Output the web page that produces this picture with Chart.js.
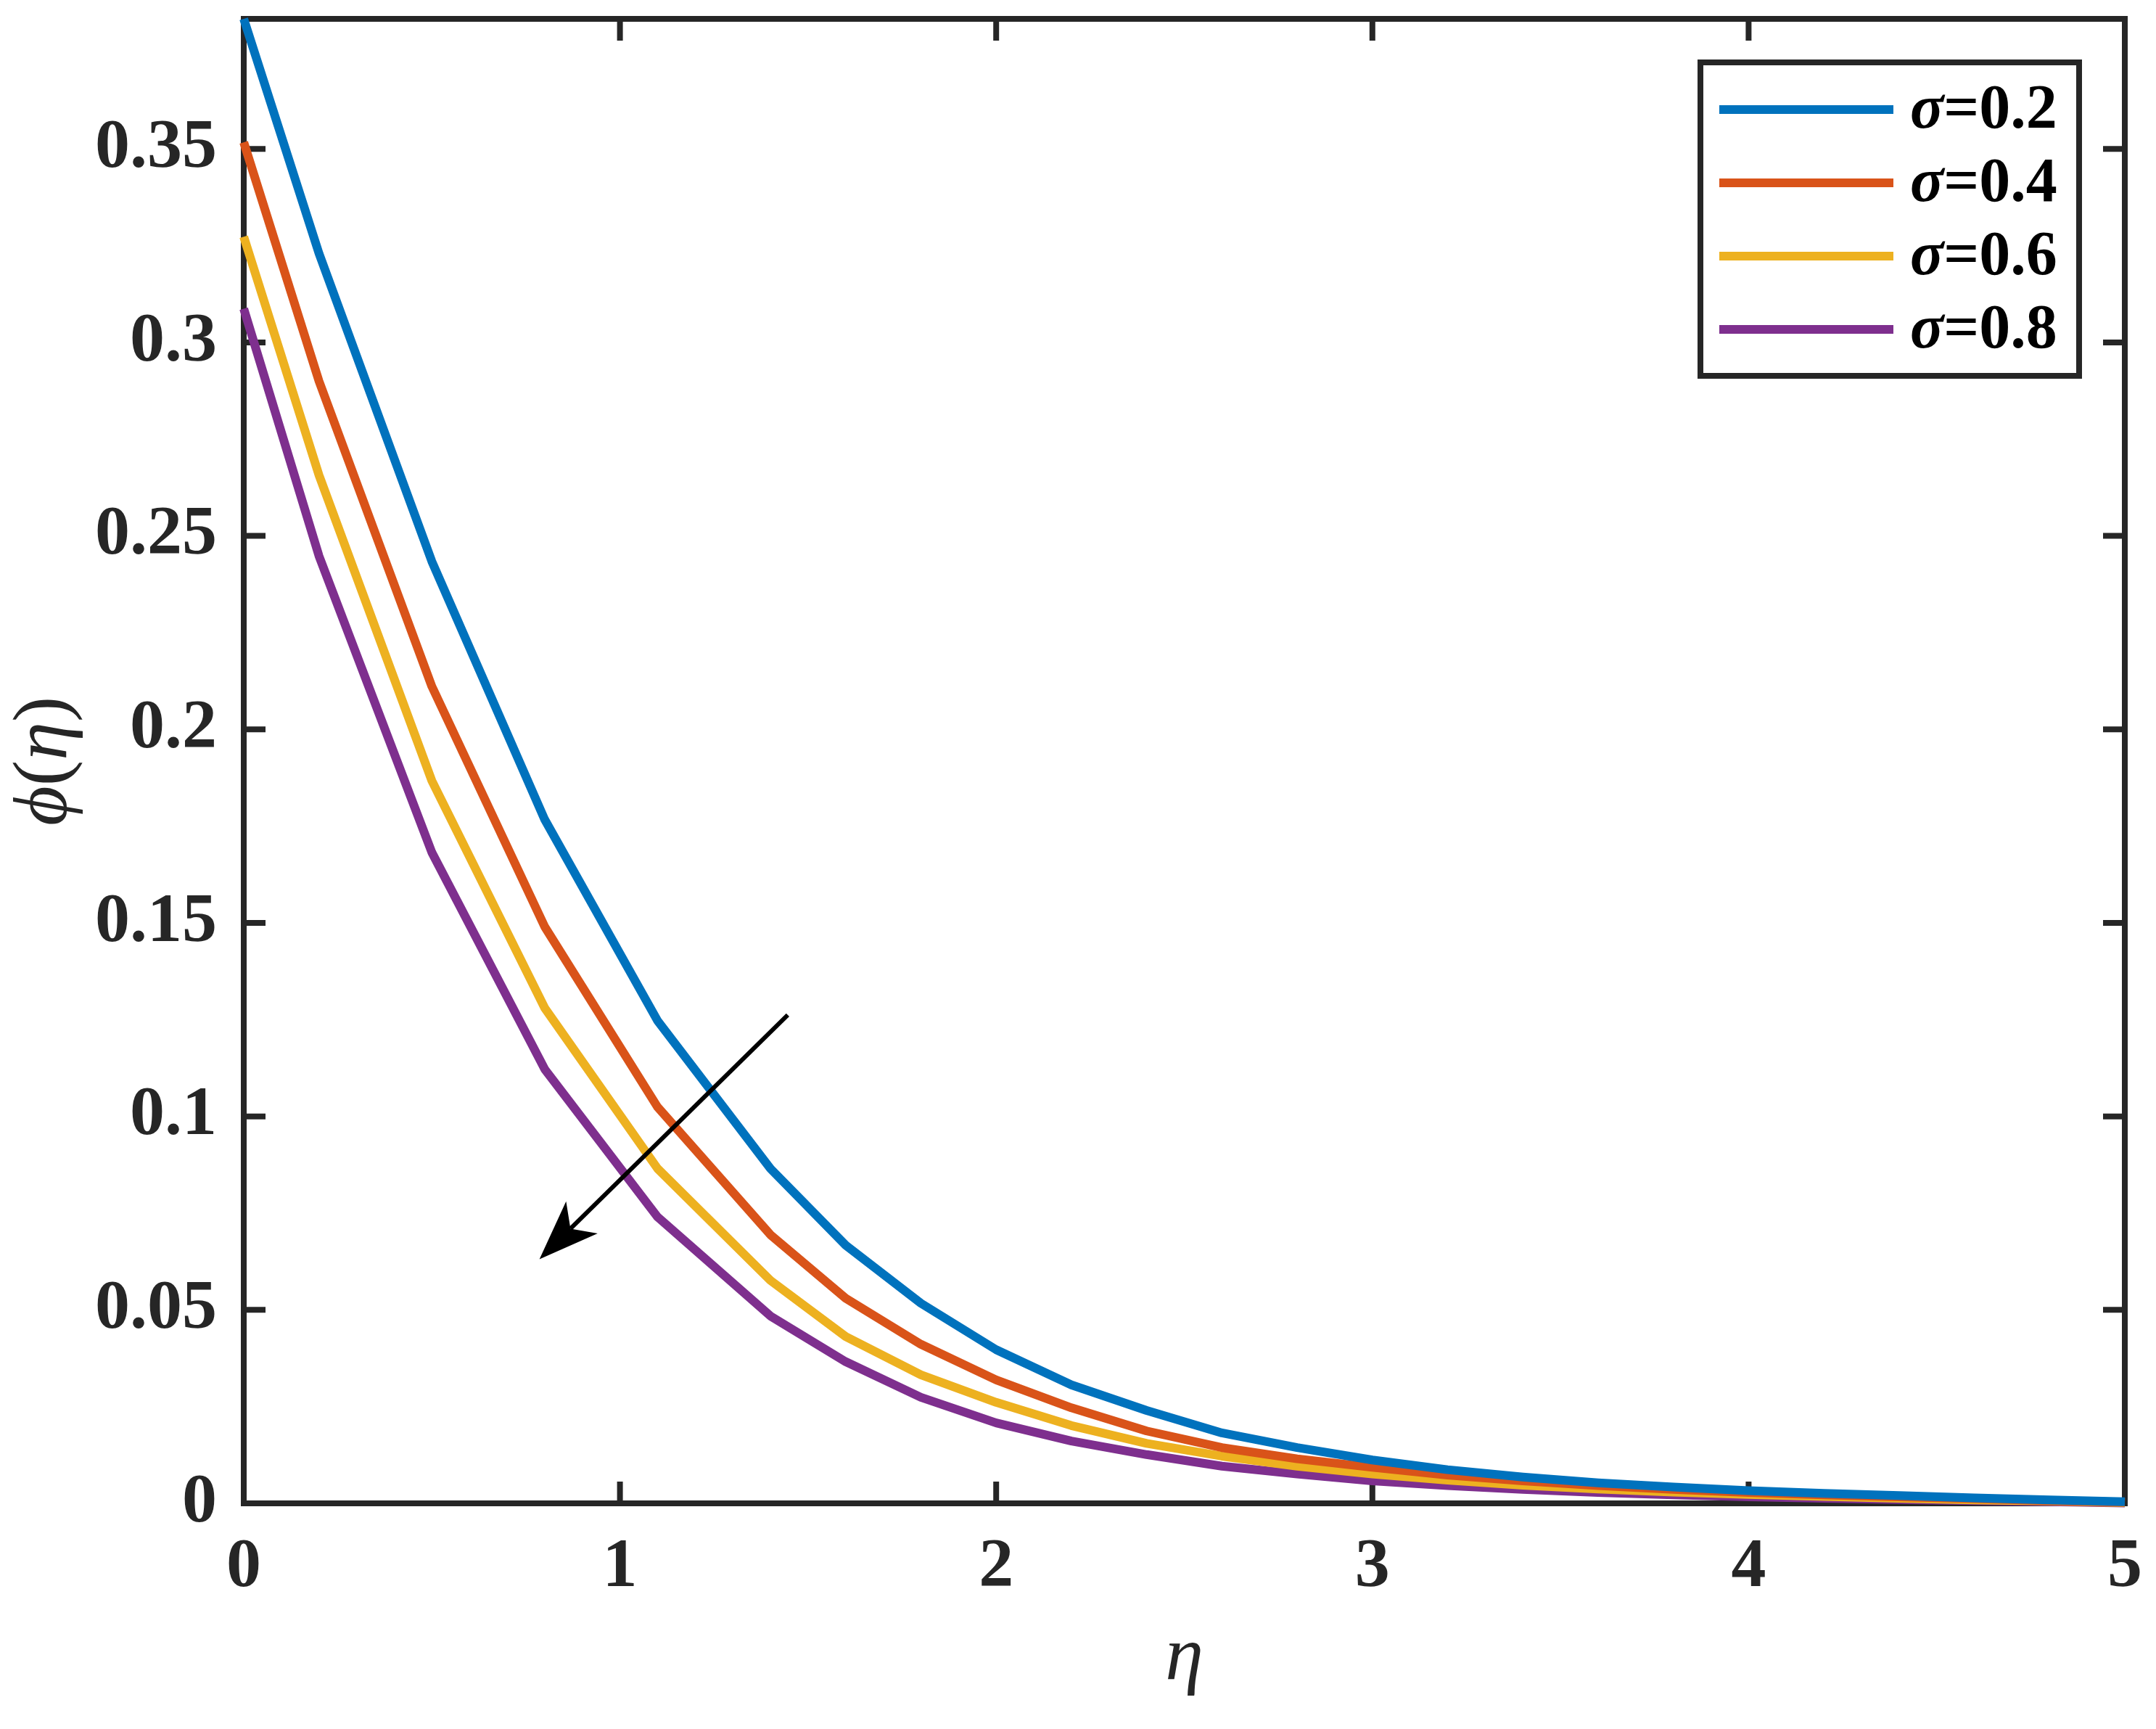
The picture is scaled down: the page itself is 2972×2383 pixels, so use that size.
<!DOCTYPE html>
<html>
<head>
<meta charset="utf-8">
<script src="https://cdn.jsdelivr.net/npm/chart.js@4.4.1/dist/chart.umd.min.js"></script>
<style>
html,body{margin:0;padding:0;background:#ffffff;}
canvas{display:block;}
</style>
</head>
<body>
<canvas id="c" width="2972" height="2383" style="width:2972px;height:2383px"></canvas>
<script>
// ---- data ----
const eta = [0, 0.2, 0.5, 0.8, 1.1, 1.4, 1.6, 1.8, 2.0, 2.2, 2.4, 2.6, 2.8, 3.0, 3.2, 3.4, 3.6, 3.8, 4.0, 4.2, 4.4, 4.6, 4.8, 5.0];
const phiSigma02 = [0.3836, 0.3230, 0.2434, 0.1767, 0.1247, 0.0865, 0.0667, 0.0517, 0.0397, 0.0306, 0.0240, 0.0182, 0.0144, 0.0112, 0.0087, 0.0068, 0.0053, 0.0042, 0.0033, 0.0026, 0.0020, 0.0014, 0.0009, 0.0004];
const phiSigma04 = [0.3517, 0.2900, 0.2111, 0.1490, 0.1024, 0.0694, 0.0530, 0.0411, 0.0319, 0.0247, 0.0187, 0.0144, 0.0115, 0.0093, 0.0073, 0.0058, 0.0046, 0.0036, 0.0028, 0.0022, 0.0017, 0.0012, 0.0007, 0.0003];
const phiSigma06 = [0.3273, 0.2657, 0.1867, 0.1280, 0.0865, 0.0576, 0.0431, 0.0332, 0.0261, 0.0201, 0.0155, 0.0122, 0.0096, 0.0076, 0.0060, 0.0047, 0.0037, 0.0029, 0.0023, 0.0018, 0.0013, 0.0009, 0.0006, 0.0002];
const phiSigma08 = [0.3087, 0.2448, 0.1682, 0.1122, 0.0740, 0.0484, 0.0366, 0.0274, 0.0208, 0.0161, 0.0126, 0.0096, 0.0076, 0.0058, 0.0046, 0.0036, 0.0028, 0.0022, 0.0017, 0.0013, 0.0010, 0.0007, 0.0004, 0.0001];

const seriesLabels = ['σ=0.2', 'σ=0.4', 'σ=0.6', 'σ=0.8'];
const seriesColors = ['#0072BD', '#D95319', '#EDB120', '#7E2F8E'];

const xTickValues = [0, 1, 2, 3, 4, 5];
const xTickLabels = ['0', '1', '2', '3', '4', '5'];
const yTickValues = [0, 0.05, 0.1, 0.15, 0.2, 0.25, 0.3, 0.35];
const yTickLabels = ['0', '0.05', '0.1', '0.15', '0.2', '0.25', '0.3', '0.35'];
const xRange = [0, 5];
const yRange = [0, 0.3836];

const xTitle = 'η';
const yTitleParts = [['ϕ', 'italic'], ['(', 'normal'], ['η', 'italic'], [')', 'normal']];

// arrow annotation (data coordinates): from -> to (tip)
const arrowFrom = [1.446, 0.1262];
const arrowTo = [0.786, 0.0631];

// ---- styles ----
const FONT = "'Liberation Serif', 'Times New Roman', serif";
const AX = '#262626';
const seriesValues = [phiSigma02, phiSigma04, phiSigma06, phiSigma08];

const datasets = seriesValues.map((vals, i) => ({
  label: seriesLabels[i],
  data: eta.map((x, j) => ({ x: x, y: vals[j] })),
  borderColor: seriesColors[i],
  backgroundColor: seriesColors[i],
  borderWidth: 12,
  pointRadius: 0,
  pointHoverRadius: 0,
  tension: 0,
  fill: false,
  clip: false,
  borderCapStyle: 'butt',
  borderJoinStyle: 'round'
}));

const framePlugin = {
  id: 'frame',
  beforeDatasetsDraw(chart) {
    const ctx = chart.ctx;
    const { left, right, top, bottom } = chart.chartArea;
    const xs = chart.scales.x, ys = chart.scales.y;
    ctx.save();
    ctx.strokeStyle = AX;
    ctx.lineWidth = 8;
    ctx.lineCap = 'butt';
    ctx.beginPath();
    xTickValues.forEach(v => {
      const px = xs.getPixelForValue(v);
      if (px - left < 6 || right - px < 6) return;
      ctx.moveTo(px, bottom); ctx.lineTo(px, bottom - 30);
      ctx.moveTo(px, top); ctx.lineTo(px, top + 30);
    });
    yTickValues.forEach(v => {
      const py = ys.getPixelForValue(v);
      if (bottom - py < 6 || py - top < 6) return;
      ctx.moveTo(left, py); ctx.lineTo(left + 30, py);
      ctx.moveTo(right, py); ctx.lineTo(right - 30, py);
    });
    ctx.stroke();
    ctx.lineJoin = 'miter';
    ctx.strokeRect(left, top, right - left, bottom - top);
    ctx.restore();
  },
  afterDatasetsDraw(chart) {
    // arrow
    const ctx = chart.ctx;
    const xs = chart.scales.x, ys = chart.scales.y;
    const sx = xs.getPixelForValue(arrowFrom[0]), sy = ys.getPixelForValue(arrowFrom[1]);
    const tx = xs.getPixelForValue(arrowTo[0]), ty = ys.getPixelForValue(arrowTo[1]);
    const dx = sx - tx, dy = sy - ty;
    const L = Math.hypot(dx, dy);
    const ux = dx / L, uy = dy / L;
    const px = -uy, py = ux;
    const headLen = 82, headHalf = 31, notch = 60;
    ctx.save();
    ctx.strokeStyle = '#000';
    ctx.fillStyle = '#000';
    ctx.lineWidth = 6;
    ctx.beginPath();
    ctx.moveTo(sx, sy);
    ctx.lineTo(tx + ux * notch, ty + uy * notch);
    ctx.stroke();
    ctx.beginPath();
    ctx.moveTo(tx, ty);
    ctx.lineTo(tx + ux * headLen + px * headHalf, ty + uy * headLen + py * headHalf);
    ctx.lineTo(tx + ux * notch, ty + uy * notch);
    ctx.lineTo(tx + ux * headLen - px * headHalf, ty + uy * headLen - py * headHalf);
    ctx.closePath();
    ctx.fill();
    ctx.restore();
  },
  afterDraw(chart) {
    const ctx = chart.ctx;
    const { right, top, bottom } = chart.chartArea;
    // y-axis title with mixed styles
    ctx.save();
    const size = 106;
    const parts = yTitleParts.map(([t, st]) => {
      ctx.font = st + ' ' + size + 'px ' + FONT;
      return { t, st, w: ctx.measureText(t).width };
    });
    const total = parts.reduce((a, p) => a + p.w, 0);
    const cy = (top + bottom) / 2;
    ctx.translate(91, cy);
    ctx.rotate(-Math.PI / 2);
    ctx.fillStyle = AX;
    ctx.textBaseline = 'alphabetic';
    ctx.textAlign = 'left';
    let xx = -total / 2;
    parts.forEach(p => {
      ctx.font = p.st + ' ' + size + 'px ' + FONT;
      ctx.fillText(p.t, xx, 0);
      xx += p.w;
    });
    ctx.restore();

    // legend
    const bx = right - 585, by = top + 60, bw = 522, bh = 432;
    ctx.save();
    ctx.fillStyle = '#ffffff';
    ctx.fillRect(bx, by, bw, bh);
    ctx.strokeStyle = AX;
    ctx.lineWidth = 8;
    ctx.lineJoin = 'miter';
    ctx.strokeRect(bx, by, bw, bh);
    chart.data.datasets.forEach((ds, i) => {
      const ly = by + 65 + i * 101;
      ctx.fillStyle = ds.borderColor;
      ctx.fillRect(bx + 26, ly - 6, 240, 12);
      ctx.fillStyle = '#000000';
      ctx.textBaseline = 'middle';
      ctx.textAlign = 'left';
      const first = ds.label.charAt(0), rest = ds.label.slice(1);
      ctx.font = 'italic bold 86px ' + FONT;
      let tx0 = bx + 289;
      ctx.fillText(first, tx0, ly + 3);
      tx0 += ctx.measureText(first).width;
      ctx.font = 'bold 86px ' + FONT;
      ctx.fillText(rest, tx0, ly + 3);
    });
    ctx.restore();
  }
};

new Chart(document.getElementById('c'), {
  type: 'line',
  data: { datasets: datasets },
  options: {
    responsive: false,
    maintainAspectRatio: false,
    devicePixelRatio: 1,
    animation: false,
    events: [],
    layout: { padding: { top: 26, right: 43, left: 0, bottom: 0 } },
    plugins: { legend: { display: false }, tooltip: { enabled: false }, title: { display: false } },
    scales: {
      x: {
        type: 'linear',
        min: xRange[0], max: xRange[1],
        afterBuildTicks: s => { s.ticks = xTickValues.map(v => ({ value: v })); },
        afterFit: s => { s.height = 311; s.paddingLeft = 0; s.paddingRight = 0; s.paddingTop = 0; s.paddingBottom = 0; },
        ticks: {
          autoSkip: false, maxRotation: 0, padding: 32, color: AX,
          font: { family: FONT, size: 96, weight: 'bold' },
          callback: (v, i) => xTickLabels[i]
        },
        grid: { display: false, drawTicks: false },
        border: { display: true, color: AX, width: 8 },
        title: {
          display: true, text: xTitle, color: AX,
          font: { family: FONT, size: 106, style: 'italic', weight: 'normal' },
          padding: { top: 0, bottom: 33 }
        }
      },
      y: {
        type: 'linear',
        min: yRange[0], max: yRange[1],
        afterBuildTicks: s => { s.ticks = yTickValues.map(v => ({ value: v })); },
        afterFit: s => { s.width = 336; s.paddingLeft = 0; s.paddingRight = 0; s.paddingTop = 0; s.paddingBottom = 0; },
        ticks: {
          autoSkip: false, padding: 37, color: AX,
          font: { family: FONT, size: 96, weight: 'bold' },
          callback: (v, i) => yTickLabels[i]
        },
        grid: { display: false, drawTicks: false },
        border: { display: true, color: AX, width: 8 }
      }
    }
  },
  plugins: [framePlugin]
});
</script>
</body>
</html>
